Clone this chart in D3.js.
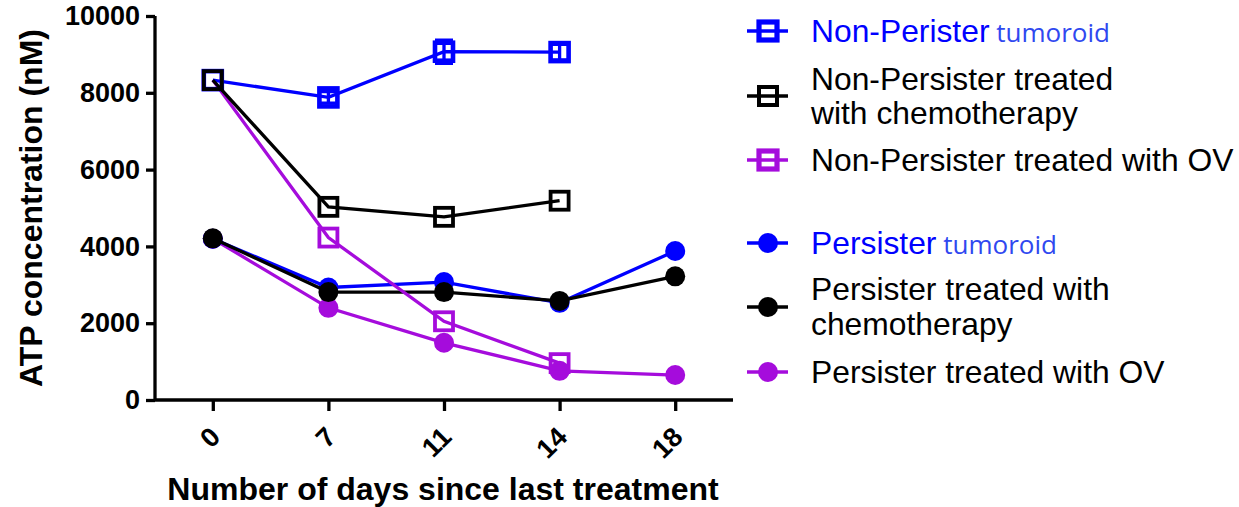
<!DOCTYPE html>
<html><head><meta charset="utf-8">
<script src="https://cdn.jsdelivr.net/npm/d3@7"></script>
<style>body{margin:0;background:#fff}svg{display:block}text{font-family:"Liberation Sans",Arial,sans-serif}</style>
</head><body>
<svg id="c" width="1239" height="507"></svg>
<script>
const days = ["0","7","11","14","18"];
const yTicks = [0,2000,4000,6000,8000,10000];
const npTumoroid = [8330, 7880, 9070, 9060, null];
const npTumoroidErr = [0, 150, 300, 200, null];
const npChemo = [8330, 5030, 4770, 5190, null];
const npOV = [8330, 4230, 2050, 960, null];
const pTumoroid = [4200, 2930, 3070, 2530, 3880];
const pChemo = [4210, 2810, 2810, 2580, 3220];
const pOV = [4200, 2400, 1490, 760, 650];

const BLUE="#0000ff", BLACK="#000000", PURPLE="#a50cdc", LIGHTBLUE="#3048f0";

const svg=d3.select("#c");
const x=d3.scalePoint().domain(days).range([155,733]).padding(0.5);
const y=d3.scaleLinear().domain([0,10000]).range([400,16]);

// axes
const yAx=svg.append("g").attr("transform","translate(155,0)")
  .call(d3.axisLeft(y).tickValues(yTicks).tickSize(9).tickPadding(6).tickFormat(d3.format("d")));
const xAx=svg.append("g").attr("transform","translate(0,400)")
  .call(d3.axisBottom(x).tickSize(11).tickFormat(()=>""));
[yAx,xAx].forEach(g=>{g.select(".domain").attr("stroke","#000").attr("stroke-width",3.3);
  g.selectAll(".tick line").attr("stroke","#000").attr("stroke-width",3.3);});
xAx.select(".domain").attr("d","M155,0H733");
yAx.select(".domain").attr("d","M0,400V16");
yAx.selectAll(".tick text").attr("font-size",27).attr("font-weight","bold").attr("fill","#000")
  .attr("font-family","'Liberation Sans',Arial,sans-serif");
xAx.selectAll(".tick").append("text").text(d=>d)
  .attr("transform","translate(2,32) rotate(-45)").attr("text-anchor","end").attr("dy","0.35em")
  .attr("font-size",27).attr("font-weight","bold").attr("fill","#000");

svg.append("text").attr("transform","translate(42,208) rotate(-90)").attr("text-anchor","middle")
  .attr("font-size",32).attr("font-weight","bold").text("ATP concentration (nM)");
svg.append("text").attr("x",443).attr("y",500).attr("text-anchor","middle")
  .attr("font-size",32).attr("font-weight","bold").text("Number of days since last treatment");

const series=[
  {vals:pOV,color:PURPLE,shape:"circle"},
  {vals:pTumoroid,color:BLUE,shape:"circle"},
  {vals:pChemo,color:BLACK,shape:"circle"},
  {vals:npOV,color:PURPLE,shape:"square"},
  {vals:npTumoroid,color:BLUE,shape:"square",err:npTumoroidErr},
  {vals:npChemo,color:BLACK,shape:"square"},
];
const line=d3.line().defined(d=>d.v!=null).x(d=>x(d.day)).y(d=>y(d.v));
series.forEach(s=>{
  const pts=days.map((d,i)=>({day:d,v:s.vals[i],e:s.err?s.err[i]:0})).filter(p=>p.v!=null);
  const g=svg.append("g");
  g.append("path").datum(pts).attr("d",line).attr("fill","none").attr("stroke",s.color).attr("stroke-width",3.3);
  if(s.err){
    pts.filter(p=>p.e>0).forEach(p=>{
      const cx=x(p.day);
      g.append("path").attr("d",`M${cx},${y(p.v+p.e)}V${y(p.v-p.e)}M${cx-9},${y(p.v+p.e)}H${cx+9}M${cx-9},${y(p.v-p.e)}H${cx+9}`)
        .attr("stroke",s.color).attr("stroke-width",3.3).attr("fill","none");
    });
  }
  pts.forEach(p=>{
    if(s.shape==="circle"){
      g.append("circle").attr("cx",x(p.day)).attr("cy",y(p.v)).attr("r",10).attr("fill",s.color);
    } else {
      g.append("rect").attr("x",x(p.day)-9).attr("y",y(p.v)-9).attr("width",18).attr("height",18)
        .attr("fill","none").attr("stroke",s.color).attr("stroke-width",s.color===BLUE?4.6:3.8);
    }
  });
});

// legend
const F=31.8, FS=26;
const legend=[
  {color:BLUE,shape:"square",my:31,lines:[{y:42,parts:[{t:"Non-Perister",c:BLUE,s:F},{t:" tumoroid",c:LIGHTBLUE,s:FS,f:"'Open Sans',sans-serif"}]}]},
  {color:BLACK,shape:"square",my:96,lines:[{y:89.5,parts:[{t:"Non-Persister treated",c:BLACK,s:F}]},{y:124,parts:[{t:"with chemotherapy",c:BLACK,s:F}]}]},
  {color:PURPLE,shape:"square",my:160,lines:[{y:171,parts:[{t:"Non-Persister treated with OV",c:BLACK,s:F}]}]},
  {color:BLUE,shape:"circle",my:243,lines:[{y:253.5,parts:[{t:"Persister",c:BLUE,s:F},{t:" tumoroid",c:LIGHTBLUE,s:FS,f:"'Open Sans',sans-serif"}]}]},
  {color:BLACK,shape:"circle",my:307,lines:[{y:300,parts:[{t:"Persister treated with",c:BLACK,s:F}]},{y:335,parts:[{t:"chemotherapy",c:BLACK,s:F}]}]},
  {color:PURPLE,shape:"circle",my:372,lines:[{y:382.5,parts:[{t:"Persister treated with OV",c:BLACK,s:F}]}]},
];
legend.forEach(L=>{
  const g=svg.append("g");
  g.append("line").attr("x1",747).attr("x2",788).attr("y1",L.my).attr("y2",L.my).attr("stroke",L.color).attr("stroke-width",3.3);
  if(L.shape==="circle") g.append("circle").attr("cx",768).attr("cy",L.my).attr("r",10).attr("fill",L.color);
  else g.append("rect").attr("x",759).attr("y",L.my-9).attr("width",18).attr("height",18).attr("fill","none").attr("stroke",L.color).attr("stroke-width",L.color===BLACK?4:5.2);
  L.lines.forEach(ln=>{
    const t=g.append("text").attr("x",811).attr("y",ln.y);
    ln.parts.forEach(p=>{const ts=t.append("tspan").text(p.t).attr("fill",p.c).attr("font-size",p.s); if(p.f) ts.attr("font-family",p.f);});
  });
});
</script>
</body></html>
